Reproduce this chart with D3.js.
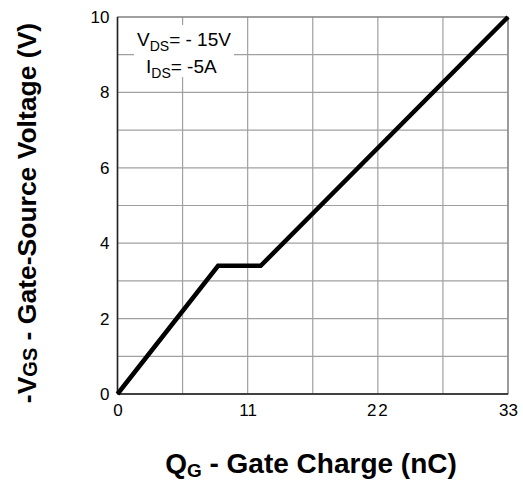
<!DOCTYPE html>
<html>
<head>
<meta charset="utf-8">
<script src="https://cdn.jsdelivr.net/npm/d3@7"></script>
<style>
body{margin:0;background:#fff;}
text{font-family:Arial,"Liberation Sans",sans-serif;}
</style>
</head>
<body>
<svg id="chart" width="523" height="486"></svg>
<script>
'use strict';

var qg=[0,8.5,12.1,33]
  , vgs=[0,3.4,3.4,10]
  , xTicks=[0,11,22,33]
  , xGrid=[0,5.5,11,16.5,22,27.5,33]
  , yTicks=[0,2,4,6,8,10]
  , yGrid=[0,1,2,3,4,5,6,7,8,9,10]

var svg=d3.select('#chart')
  , m={l:117.5,r:508,t:17,b:394}
  , x=d3.scaleLinear().domain([0,33]).range([m.l,m.r])
  , y=d3.scaleLinear().domain([0,10]).range([m.b,m.t])

// grid
svg.append('g').selectAll('line').data(xGrid).enter().append('line')
    .attr('x1',function(d){return x(d);})
    .attr('x2',function(d){return x(d);})
    .attr('y1',m.t).attr('y2',m.b)
    .attr('stroke','#a0a0a0').attr('stroke-width',1.2);
svg.append('g').selectAll('line').data(yGrid).enter().append('line')
    .attr('y1',function(d){return y(d);})
    .attr('y2',function(d){return y(d);})
    .attr('x1',m.l).attr('x2',m.r)
    .attr('stroke','#a0a0a0').attr('stroke-width',1.2);

// frame
svg.append('rect')
    .attr('x',m.l).attr('y',m.t)
    .attr('width',m.r-m.l).attr('height',m.b-m.t)
    .attr('fill','none').attr('stroke','#808080').attr('stroke-width',1.2);
svg.append('line')
    .attr('x1',m.l).attr('x2',m.r).attr('y1',m.b).attr('y2',m.b)
    .attr('stroke','#222').attr('stroke-width',1.5);
svg.append('line')
    .attr('x1',m.l).attr('x2',m.l).attr('y1',m.t).attr('y2',m.b)
    .attr('stroke','#222').attr('stroke-width',1.5);

// legend box
svg.append('rect')
    .attr('x',134).attr('y',25).attr('width',100).attr('height',52)
    .attr('fill','#fff');
var t1=svg.append('text').attr('x',137).attr('y',46).attr('font-size',19);
t1.append('tspan').text('V');
t1.append('tspan').attr('font-size',14).attr('dy',5).text('DS');
t1.append('tspan').attr('dy',-5).text('= - 15V');
var t2=svg.append('text').attr('x',146).attr('y',73).attr('font-size',19);
t2.append('tspan').text('I');
t2.append('tspan').attr('font-size',14).attr('dy',5).text('DS');
t2.append('tspan').attr('dy',-5).text('=  -5A');

// curve
var pts=qg.map(function(d,i){return [d,vgs[i]];});
svg.append('path')
    .datum(pts)
    .attr('d',d3.line().x(function(d){return x(d[0]);}).y(function(d){return y(d[1]);}))
    .attr('fill','none').attr('stroke','#000').attr('stroke-width',4.5)
    .attr('stroke-linejoin','miter');

// axes
var xa=svg.append('g').attr('transform','translate(0,'+m.b+')')
    .call(d3.axisBottom(x).tickValues(xTicks).tickSize(0).tickPadding(10));
var ya=svg.append('g').attr('transform','translate('+m.l+',0)')
    .call(d3.axisLeft(y).tickValues(yTicks).tickSize(0).tickPadding(8));
[xa,ya].forEach(function(a){
    a.select('.domain').remove();
    a.selectAll('text').attr('font-size',17).attr('font-family','Arial,"Liberation Sans",sans-serif').attr('fill','#000');
});
xa.selectAll('text').filter(function(d){return d===22;}).attr('letter-spacing',2);

// labels
var xl=svg.append('text').attr('x',311).attr('y',473)
    .attr('text-anchor','middle').attr('font-size',28).attr('font-weight','bold');
xl.append('tspan').text('Q');
xl.append('tspan').attr('font-size',19).attr('dy',4).text('G');
xl.append('tspan').attr('dy',-4).text(' - Gate Charge (nC)');

var yl=svg.append('text').attr('transform','translate(36,213) rotate(-90)')
    .attr('text-anchor','middle').attr('font-size',26.5).attr('font-weight','bold');
yl.append('tspan').text('-V');
yl.append('tspan').attr('font-size',20).attr('dy',1).text('GS');
yl.append('tspan').attr('dy',-1).text(' - Gate-Source Voltage (V)');
</script>
</body>
</html>
